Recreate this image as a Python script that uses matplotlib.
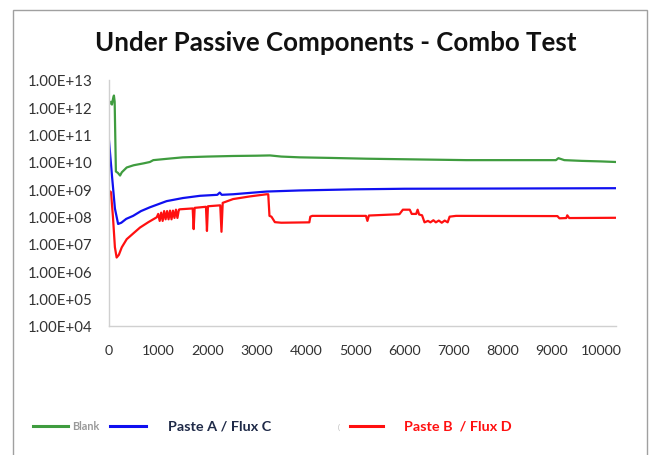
import math

import matplotlib
matplotlib.use("Agg")
import matplotlib.pyplot as plt
from matplotlib.lines import Line2D
from matplotlib.patches import Rectangle
from matplotlib.ticker import FixedLocator, FuncFormatter

plt.rcParams["font.family"] = ["Lato", "DejaVu Sans"]

TITLE = "Under Passive Components - Combo Test"

# Blank (green)
blank_x = [0, 40, 60, 85, 100, 115, 140, 180, 225, 260, 360, 500, 700, 830, 900,
           1200, 1500, 2000, 2520, 3000, 3270, 3500, 3875, 4500, 5230, 6000, 7260,
           8000, 9080, 9130, 9250, 9600, 10000, 10300]
blank_y = [1.26e12, 1.6e12, 1.26e12, 2.2e12, 2.7e12, 1.6e12, 4.5e9, 4.0e9, 3.2e9,
           4.2e9, 6.3e9, 7.6e9, 8.9e9, 1.0e10, 1.17e10, 1.32e10, 1.48e10, 1.58e10,
           1.66e10, 1.7e10, 1.74e10, 1.58e10, 1.48e10, 1.41e10, 1.32e10, 1.26e10,
           1.17e10, 1.17e10, 1.17e10, 1.38e10, 1.17e10, 1.1e10, 1.05e10, 1.0e10]

# Paste A / Flux C (blue)
pa_x = [0, 60, 120, 185, 250, 350, 490, 650, 830, 1170, 1500, 1850, 2200, 2250,
        2290, 2520, 3200, 3875, 5000, 6000, 8000, 10300]
pa_y = [6.0e10, 3.2e9, 2.0e8, 5.4e7, 6.0e7, 8.3e7, 1.07e8, 1.6e8, 2.2e8, 3.7e8,
        4.8e8, 5.8e8, 6.3e8, 7.6e8, 6.3e8, 6.6e8, 8.3e8, 9.1e8, 1.0e9, 1.05e9,
        1.07e9, 1.1e9]

# Paste B / Flux D (red)
pb_x = [0, 40, 80, 120, 155, 200, 260, 360, 500, 630, 800, 970, 1000, 1030, 1060,
        1090, 1120, 1150, 1180, 1210, 1240, 1270, 1300, 1330, 1360, 1390, 1420,
        1440, 1700, 1720, 1740, 1970, 1990, 2010, 2260, 2285, 2310, 2520, 2860,
        3200, 3235, 3260, 3300, 3370, 3500, 4070, 4090, 4130, 5220, 5250, 5280,
        5900, 5970, 6110, 6150, 6240, 6270, 6300, 6360, 6410, 6480, 6530, 6590,
        6640, 6700, 6760, 6820, 6880, 6920, 7050, 9110, 9150, 9290, 9310, 9350,
        10300]
pb_y = [8.9e8, 7.9e8, 1.0e8, 7.6e6, 3.2e6, 4.0e6, 7.6e6, 1.5e7, 2.5e7, 4.0e7,
        6.3e7, 9.5e7, 1.26e8, 7.0e7, 1.4e8, 7.0e7, 1.6e8, 8.0e7, 1.6e8, 8.0e7,
        1.66e8, 8.0e7, 1.66e8, 9.0e7, 1.8e8, 9.0e7, 1.8e8, 1.86e8, 2.0e8, 3.5e7,
        2.1e8, 2.3e8, 3.0e7, 2.4e8, 2.6e8, 2.8e7, 3.2e8, 4.4e8, 5.5e8, 6.6e8,
        6.6e8, 1.07e8, 1.0e8, 6.3e7, 6.0e7, 6.2e7, 1.0e8, 1.07e8, 1.07e8, 7.0e7,
        1.1e8, 1.23e8, 1.8e8, 1.8e8, 1.26e8, 1.26e8, 1.8e8, 1.2e8, 1.12e8, 6.2e7,
        7.0e7, 6.2e7, 7.4e7, 6.2e7, 7.2e7, 6.0e7, 7.2e7, 6.2e7, 1.0e8, 1.07e8,
        1.05e8, 8.7e7, 8.9e7, 1.12e8, 8.9e7, 9.1e7]

x_ticks = list(range(0, 10001, 1000))
y_ticks = [10.0 ** k for k in range(4, 14)]

GREEN = "#3f9c3f"
BLUE = "#1010f0"
RED = "#ff1010"

W, H = 659, 456
fig = plt.figure(figsize=(W / 100, H / 100), dpi=100)
ax = fig.add_axes([109 / W, 1 - 327 / H, (616 - 109) / W, (327 - 81) / H])

ax.plot(blank_x, blank_y, color=GREEN, lw=1.6)
ax.plot(pa_x, pa_y, color=BLUE, lw=1.6)
ax.plot(pb_x, pb_y, color=RED, lw=1.6)

ax.set_yscale("log")
ax.set_ylim(1e4, 1e13)
ax.set_xlim(0, 10300)
ax.yaxis.set_major_locator(FixedLocator(y_ticks))
ax.yaxis.set_minor_locator(FixedLocator([]))
ax.yaxis.set_major_formatter(FuncFormatter(lambda v, p: "1.00E+%02d" % round(math.log10(v))))
ax.set_xticks(x_ticks)
ax.tick_params(axis="y", length=0, pad=12, labelsize=10.8, colors="#333333")
ax.tick_params(axis="x", length=0, pad=13, labelsize=10.3, colors="#333333")

for s in ["top", "right"]:
    ax.spines[s].set_visible(False)
for s in ["left", "bottom"]:
    ax.spines[s].set_color("#d0d0d0")
    ax.spines[s].set_linewidth(1.0)

fig.text(336 / W, 1 - 43 / H, TITLE, ha="center", va="center",
         fontsize=18.6, fontweight="bold", color="#111111")

# chart border
fig.add_artist(Rectangle((13 / W, -0.05), (647 - 13) / W, 1.05 - 11 / H,
                         transform=fig.transFigure, fill=False,
                         edgecolor="#a0a0a0", lw=1.0))

# legend, drawn by hand
ly = 1 - 427 / H
for x0, x1, c in [(33, 68, GREEN), (110, 146, BLUE), (350, 383, RED)]:
    fig.add_artist(Line2D([x0 / W, x1 / W], [ly, ly], color=c, lw=2.2,
                          transform=fig.transFigure))
fig.text(72 / W, ly, "Blank", ha="left", va="center", fontsize=7.8,
         fontweight="bold", color="#9a9a9a")
fig.text(168 / W, ly, "Paste A / Flux C", ha="left", va="center", fontsize=10.4,
         fontweight="bold", color="#1f2a48")
fig.text(338 / W, ly, "(", ha="left", va="center", fontsize=5, color="#b0b0b0")
fig.text(404 / W, ly, "Paste B  / Flux D", ha="left", va="center", fontsize=10.4,
         fontweight="bold", color="#ff1010")

fig.savefig("out.png", dpi=100)
